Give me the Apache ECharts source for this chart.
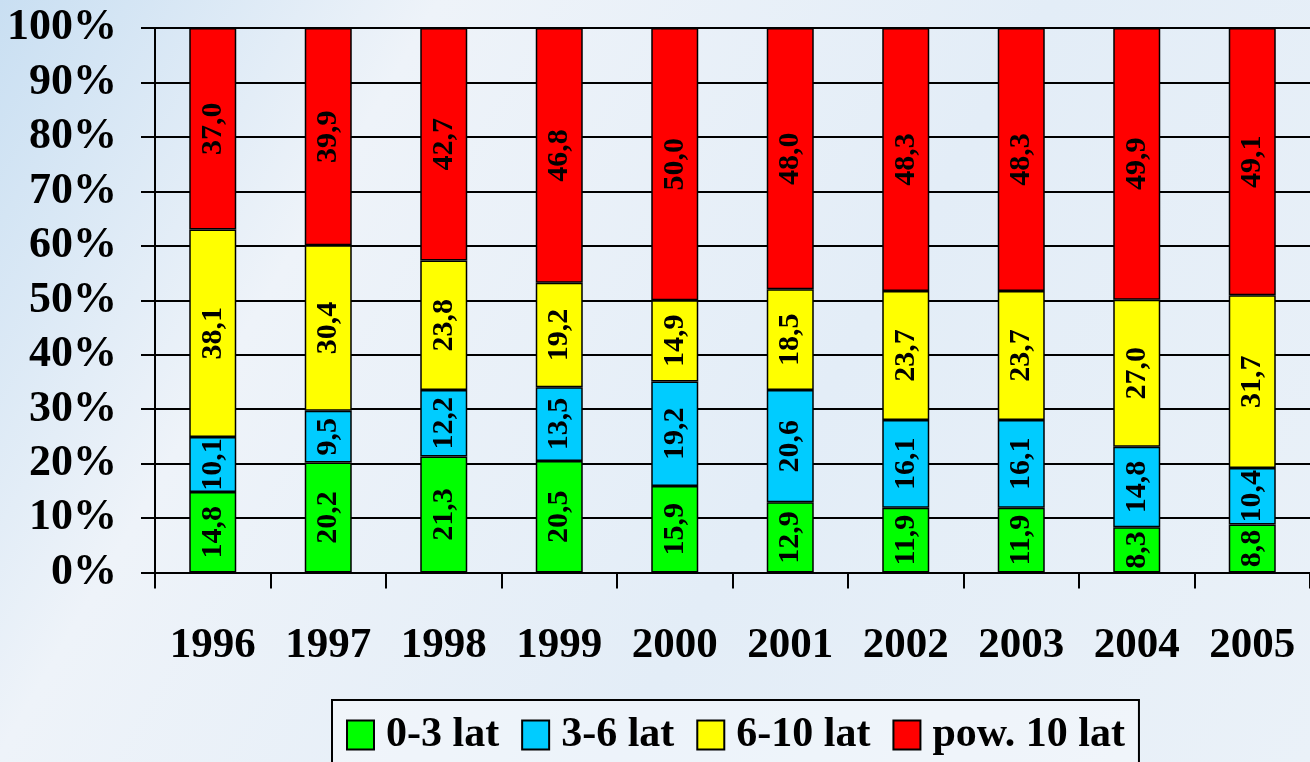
<!DOCTYPE html>
<html>
<head>
<meta charset="utf-8">
<title>Struktura wiekowa</title>
<script src="https://cdn.jsdelivr.net/npm/echarts@6/dist/echarts.min.js"></script>
<style>
    html, body { margin: 0; padding: 0; }
    #main { width: 1310px; height: 762px; }
</style>
</head>
<body>
<div id="main"></div>
<script>
// dane z wykresu (udzial w %)
var years = ['1996', '1997', '1998', '1999', '2000', '2001', '2002', '2003', '2004', '2005'];
var lat0_3 = [14.8, 20.2, 21.3, 20.5, 15.9, 12.9, 11.9, 11.9, 8.3, 8.8];
var lat3_6 = [10.1, 9.5, 12.2, 13.5, 19.2, 20.6, 16.1, 16.1, 14.8, 10.4];
var lat6_10 = [38.1, 30.4, 23.8, 19.2, 14.9, 18.5, 23.7, 23.7, 27.0, 31.7];
var pow10 = [37.0, 39.9, 42.7, 46.8, 50.0, 48.0, 48.3, 48.3, 49.9, 49.1];
var seriesNames = ['0-3 lat', '3-6 lat', '6-10 lat', 'pow. 10 lat'];
var seriesColors = ['#00ff00', '#00ccff', '#ffff00', '#ff0000'];

var fontFam = '"Liberation Serif", "Times New Roman", serif';

// jeden slupek serii
function makeSeries(name, data, color) {
    return {
        name: name,
        type: 'bar',
        stack: 'all',
        barWidth: 47,
        data: data,
        itemStyle: {
            color: color,
            borderColor: '#000',
            borderWidth: 1.5
        },
        label: {
            show: true,
            position: 'inside',
            rotate: 90,
            color: '#000',
            fontFamily: fontFam,
            fontWeight: 'bold',
            fontSize: 30,
            formatter: function (p) {
                return p.value.toFixed(1).replace('.', ',');
            }
        }
    };
}

var myChart = echarts.init(document.getElementById('main'));
var option = {
    backgroundColor: new echarts.graphic.LinearGradient(0, 0, 1, 1, [
        { offset: 0, color: '#c9dff2' },
        { offset: 0.25, color: '#eef3f9' },
        { offset: 0.6, color: '#e3edf7' },
        { offset: 1, color: '#eaf1f8' }
    ]),
    animation: false,
    grid: {
        left: 155,
        right: -3,
        top: 28,
        bottom: 189.5
    },
    legend: {
        data: seriesNames,
        left: 332,
        top: 700,
        icon: 'rect',
        itemWidth: 27,
        itemHeight: 29,
        itemGap: 22,
        padding: [14, 14, 14, 14],
        borderColor: '#000',
        borderWidth: 2,
        backgroundColor: 'rgba(255,255,255,0.35)',
        textStyle: {
            fontFamily: fontFam,
            fontWeight: 'bold',
            fontSize: 42,
            color: '#000',
            padding: [0, 0, 0, 7]
        }
    },
    xAxis: {
        type: 'category',
        data: years,
        axisLine: { lineStyle: { color: '#000', width: 2 } },
        axisTick: { show: true, length: 16, lineStyle: { color: '#000', width: 2 } },
        axisLabel: {
            margin: 52,
            color: '#000',
            fontFamily: fontFam,
            fontWeight: 'bold',
            fontSize: 43
        }
    },
    yAxis: {
        type: 'value',
        min: 0,
        max: 100,
        interval: 10,
        axisLine: { show: true, lineStyle: { color: '#000', width: 2 } },
        axisTick: { show: true, length: 14, lineStyle: { color: '#000', width: 2 } },
        splitLine: { show: true, lineStyle: { color: '#000', width: 2 } },
        axisLabel: {
            margin: 38,
            color: '#000',
            fontFamily: fontFam,
            fontWeight: 'bold',
            fontSize: 44,
            formatter: '{value}%'
        }
    },
    series: [
        makeSeries(seriesNames[0], lat0_3, seriesColors[0]),
        makeSeries(seriesNames[1], lat3_6, seriesColors[1]),
        makeSeries(seriesNames[2], lat6_10, seriesColors[2]),
        makeSeries(seriesNames[3], pow10, seriesColors[3])
    ]
};
myChart.setOption(option);
</script>
</body>
</html>
